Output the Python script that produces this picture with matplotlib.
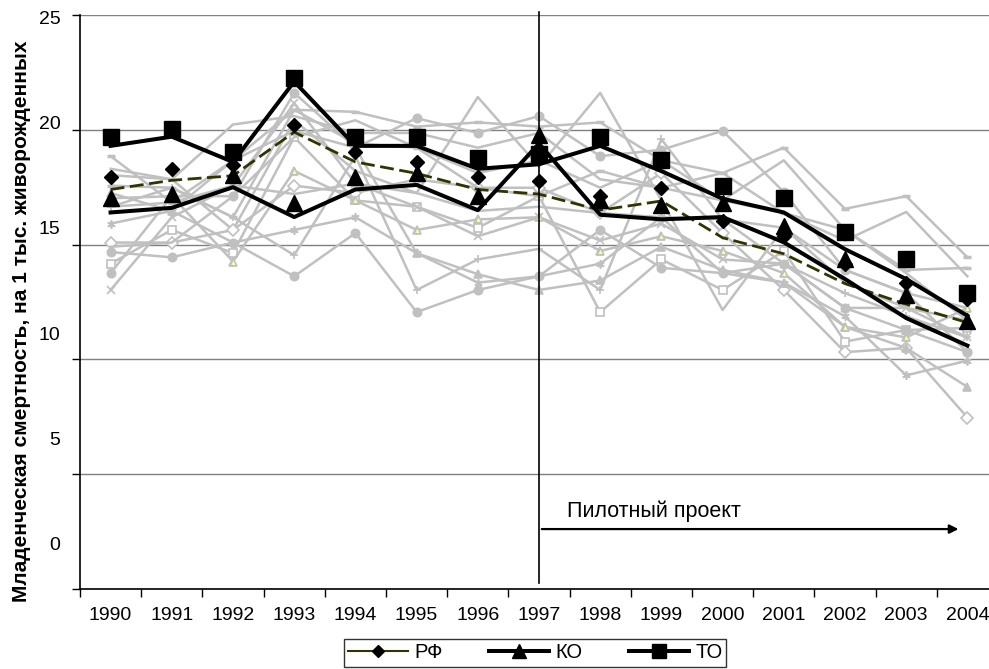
import matplotlib
matplotlib.use("Agg")
import matplotlib.pyplot as plt
from matplotlib.lines import Line2D

plt.rcParams['font.family'] = ['Liberation Sans', 'DejaVu Sans']

# --- данные ---
years = [str(y) for y in range(1990, 2005)]
x = list(range(len(years)))

rf = [17.4, 17.8, 18.0, 19.9, 18.6, 18.1, 17.4, 17.2, 16.5, 16.9, 15.3, 14.6, 13.3, 12.4, 11.6]
ko = [16.4, 16.6, 17.5, 16.2, 17.4, 17.6, 16.5, 19.4, 16.3, 16.1, 16.2, 15.1, 13.5, 11.8, 10.6]
to = [19.3, 19.7, 18.6, 22.1, 19.3, 19.3, 18.3, 18.5, 19.3, 18.2, 17.0, 16.4, 14.8, 13.5, 11.9]

# регионы (серые линии)
reg01 = [18.4, 16.2, 18.2, 20.6, 20.5, 19.8, 20.0, 19.8, 20.0, 18.2, 17.6, 18.8, 15.9, 16.5, 13.6]
reg02 = [12.85, 16.5, 16.5, 21.4, 18.8, 20.2, 19.5, 20.3, 18.4, 18.7, 19.6, 16.7, 13.0, 11.9, 9.1]
reg03 = [17.8, 17.3, 14.9, 20.1, 17.7, 16.65, 21.2, 17.9, 21.4, 16.3, 11.1, 15.0, 12.4, 11.2, 10.6]
reg04 = [13.3, 14.9, 13.8, 19.3, 16.3, 16.0, 15.0, 16.5, 11.0, 13.5, 12.05, 13.9, 9.6, 10.15, 10.25]
reg05 = [14.3, 14.3, 14.9, 17.0, 16.65, 17.3, 16.9, 16.9, 15.7, 17.6, 14.75, 12.05, 9.1, 9.3, 6.0]
reg06 = [12.05, 15.5, 17.0, 20.9, 17.1, 16.0, 14.6, 15.5, 14.4, 15.2, 13.5, 13.3, 11.2, 11.2, 9.8]
reg07 = [15.2, 15.8, 14.3, 14.9, 15.5, 13.8, 12.4, 12.7, 13.3, 15.5, 12.85, 12.4, 10.8, 8.0, 8.7]
reg08 = [16.0, 16.9, 15.5, 13.7, 18.4, 12.05, 13.5, 14.0, 12.05, 19.2, 15.4, 13.3, 11.9, 10.8, 9.8]
reg09 = [16.4, 16.5, 13.4, 17.7, 16.3, 14.9, 15.4, 15.5, 13.9, 14.6, 13.9, 12.85, 10.3, 9.8, 11.2]
reg10 = [16.65, 15.8, 18.2, 19.6, 18.8, 13.8, 12.8, 12.05, 12.5, 14.1, 13.0, 12.4, 10.3, 9.3, 7.45]
reg11 = [13.85, 13.6, 14.3, 12.7, 14.75, 11.0, 12.05, 12.7, 14.9, 13.1, 12.85, 13.3, 11.2, 10.15, 9.1]
reg12 = [17.5, 17.3, 19.9, 20.3, 19.5, 19.5, 18.8, 19.5, 17.3, 16.9, 17.6, 15.7, 14.4, 15.75, 12.7]
reg13 = [14.1, 14.3, 16.5, 19.3, 20.1, 18.8, 17.6, 18.2, 16.9, 18.2, 16.3, 18.2, 14.9, 12.85, 10.6]
reg14 = [16.0, 16.2, 17.0, 16.6, 17.1, 16.65, 15.8, 16.0, 15.7, 15.5, 15.4, 15.0, 13.0, 11.9, 11.2]
reg15 = [17.0, 16.9, 15.5, 20.6, 19.0, 18.8, 16.9, 16.5, 17.7, 16.9, 16.3, 15.7, 14.9, 13.0, 13.1]

regions = [reg01, reg02, reg03, reg04, reg05, reg06, reg07, reg08,
           reg09, reg10, reg11, reg12, reg13, reg14, reg15]
region_markers = ['_', 'o', 'None', 's', 'D', 'x', (6, 2, 0), '+',
                  '^', '^', 'o', 'None', 'None', 'None', '_']

gray = '#c0c0c0'

fig = plt.figure(figsize=(9.89, 6.69), dpi=100)
# ось линий (сетка 0..25)
ax = fig.add_axes([80 / 989, 1 - 589 / 669, (998 - 80) / 989, (589 - 15) / 669])
ax.set_xlim(-0.5, 14.5)
ax.set_ylim(0, 25)

# ось подписей и маркеров
ax2 = ax.twinx()
ax2.set_ylim(-2.135, 25.095)
ax2.yaxis.tick_left()
for s in ax2.spines.values():
    s.set_visible(False)
ax2.set_yticks(range(0, 26, 5))
ax2.tick_params(axis='y', length=0, pad=14, labelsize=14)

ax.set_yticks(range(0, 26, 5))
ax.yaxis.grid(True, color='#808080', lw=1)
ax.set_axisbelow(True)
ax.tick_params(axis='y', labelleft=False, length=6, width=1)
ax.spines['top'].set_visible(False)
ax.spines['right'].set_visible(False)
ax.spines['left'].set_linewidth(1.2)
ax.spines['bottom'].set_linewidth(1.2)

ax.set_xticks([i - 0.5 for i in range(16)])
ax.set_xticklabels([])
ax.set_xticks(x, minor=True)
ax.set_xticklabels(years, minor=True)
ax.tick_params(axis='x', which='major', length=6, width=1)
ax.tick_params(axis='x', which='minor', length=0, pad=13, labelsize=14)

# серые регионы
for vals, mk in zip(regions, region_markers):
    face = gray
    if mk in ('s', 'D'):
        face = 'white'
    ax.plot(x, vals, color=gray, lw=1.8, marker=mk, ms=6, mfc=face, mec=gray,
            mew=2.5 if mk == '_' else 1.2, transform=ax2.transData, zorder=3)
# желтые треугольники
ax.plot(x, reg09, ls='none', marker='^', ms=5, mfc='#ffff99', mec=gray, mew=0.8,
        transform=ax2.transData, zorder=3.5)

# РФ, КО, ТО — линии
ax.plot(x, rf, color='#333300', lw=2, dashes=(5, 2), zorder=5)
ax.plot(x, ko, color='black', lw=2.9, zorder=5)
ax.plot(x, to, color='black', lw=2.9, zorder=5)
# маркеры
ax.plot(x, rf, ls='none', marker='D', ms=7, color='black', transform=ax2.transData, zorder=6)
ax.plot(x, ko, ls='none', marker='^', ms=11, color='black', transform=ax2.transData, zorder=6)
ax.plot(x, to, ls='none', marker='s', ms=11, color='black', transform=ax2.transData, zorder=6)

# пилотный проект
ax.plot([7, 7], [0.26, 25.13], color='black', lw=1.2, clip_on=False, zorder=7)
ax.annotate('', xy=(13.9, 2.61), xytext=(7, 2.61),
            arrowprops=dict(arrowstyle='-|>', color='black', lw=1.6, mutation_scale=13),
            zorder=7)
ax.text(7.46, 3.4, 'Пилотный проект', fontsize=15.5, va='center', ha='left')

ax.set_xlim(-0.5, 14.5)
ax.set_ylim(0, 25)
ax2.set_ylim(-2.135, 25.095)

fig.text(22 / 989, 1 - 321 / 669, 'Младенческая смертность, на 1 тыс. живорожденных',
         rotation=90, ha='center', va='center', fontsize=15, fontweight='bold')

handles = [
    Line2D([], [], color='#333300', lw=1.5, marker='D', mfc='black', mec='black', ms=6),
    Line2D([], [], color='black', lw=2.9, marker='^', ms=10),
    Line2D([], [], color='black', lw=2.9, marker='s', ms=10),
]
leg = fig.legend(handles, ['РФ', 'КО', 'ТО'], loc='center',
                 bbox_to_anchor=(535 / 989, 1 - 653 / 669), ncol=3, frameon=True,
                 fancybox=False, edgecolor='black', fontsize=14.5, handlelength=3,
                 columnspacing=2.3, borderpad=0.2, handletextpad=0.3)
leg.get_frame().set_linewidth(1)

fig.savefig('out.png', dpi=100)
